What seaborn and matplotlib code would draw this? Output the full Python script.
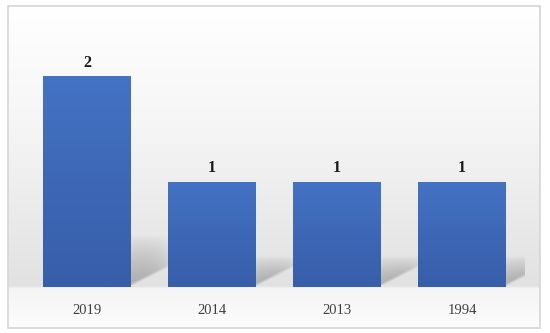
import numpy as np
import pandas as pd
import matplotlib
matplotlib.use("Agg")
import matplotlib.pyplot as plt
import seaborn as sns
from matplotlib.patches import Rectangle

years = ["2019", "2014", "2013", "1994"]
counts = [2, 1, 1, 1]

df = pd.DataFrame({"year": years, "count": counts})

sns.set_theme(style="white")
plt.rcParams["font.family"] = ["Liberation Serif", "DejaVu Serif"]

W, H = 550, 333
fig = plt.figure(figsize=(W / 100, H / 100), dpi=100)
fig.patch.set_facecolor("white")

# background panel with vertical gradient
bg = fig.add_axes([0, 0, 1, 1], zorder=0)
bg.set_xlim(0, W)
bg.set_ylim(H, 0)
bg.axis("off")
ys = np.linspace(6, 328, 600)
stops_y = [6, 120, 286, 288.5, 328]
stops_v = [1.0, 0.965, 0.885, 0.96, 0.99]
vals = np.interp(ys, stops_y, stops_v)
grad = np.repeat(vals[:, None], 2, axis=1)
bg.imshow(np.dstack([grad, grad, grad]), extent=[8, 540, 328, 6], aspect="auto",
          interpolation="bilinear", zorder=0)
bg.add_patch(Rectangle((8, 6), 532, 322, fill=False, edgecolor="#d6d6d6", lw=1.2, zorder=1))

# main axes
base_px, top_px = 287, 287 - 211 * 1.1
ax = fig.add_axes([24.5 / W, (H - base_px) / H, 500 / W, (base_px - top_px) / H], zorder=1)
ax.patch.set_alpha(0)
sns.barplot(data=df, x="year", y="count", color="#4472C4", width=0.7,
            saturation=1, linewidth=0, ax=ax, zorder=3)
for s in ax.spines.values():
    s.set_visible(False)
ax.set_yticks([])
ax.set_xlabel("")
ax.set_ylabel("")
ax.tick_params(axis="x", length=0, pad=12, labelsize=10.5, labelcolor="#404040")

# gradient fill & shadows for bars
top_c = np.array([0x44, 0x72, 0xC4]) / 255
bot_c = np.array([0x37, 0x5E, 0xA9]) / 255
for p in ax.patches:
    p.set_linewidth(0)
    x0, w, h = p.get_x(), p.get_width(), p.get_height()
    t = np.linspace(0, 1, 100)[:, None]
    img = top_c[None, :] * (1 - t) + bot_c[None, :] * t
    img = np.repeat(img[:, None, :], 2, axis=1)
    im = ax.imshow(img, extent=[x0, x0 + w, 0, h], aspect="auto",
                   interpolation="bilinear", zorder=3.1)
    im.set_clip_path(p)

    # soft shadow behind the bar, to the right (parallelogram with diagonal lower edge)
    xr = x0 + w
    L = 0.36
    d = 0.22
    hs = 0.2 * h + 0.09
    nx, ny = 90, 90
    gx = np.linspace(0, 1, nx)[None, :]
    gy = np.linspace(hs, 0, ny)[:, None]
    diag = d * gx
    inside = gy - diag
    edge = np.clip(inside / 0.03, 0, 1)
    up = np.clip(1 - inside / (hs - diag + 1e-6), 0, 1) ** 0.75
    fade_x = np.clip(1 - gx ** 2.5, 0, 1)
    alpha = 0.45 * edge * up * fade_x
    rgba = np.zeros((ny, nx, 4))
    rgba[..., :3] = 0.42
    rgba[..., 3] = alpha
    ax.imshow(rgba, extent=[xr - 0.01, xr + L, 0, hs], aspect="auto",
              interpolation="bilinear", zorder=2)

    ax.text(x0 + w / 2, h + 0.05, f"{int(round(h))}", ha="center", va="bottom",
            fontsize=11.5, fontweight="bold", color="#1a1a1a", zorder=4)

ax.set_ylim(0, 2.2)
ax.set_xlim(-0.5, 3.5)
fig.savefig("out.png", dpi=100)
